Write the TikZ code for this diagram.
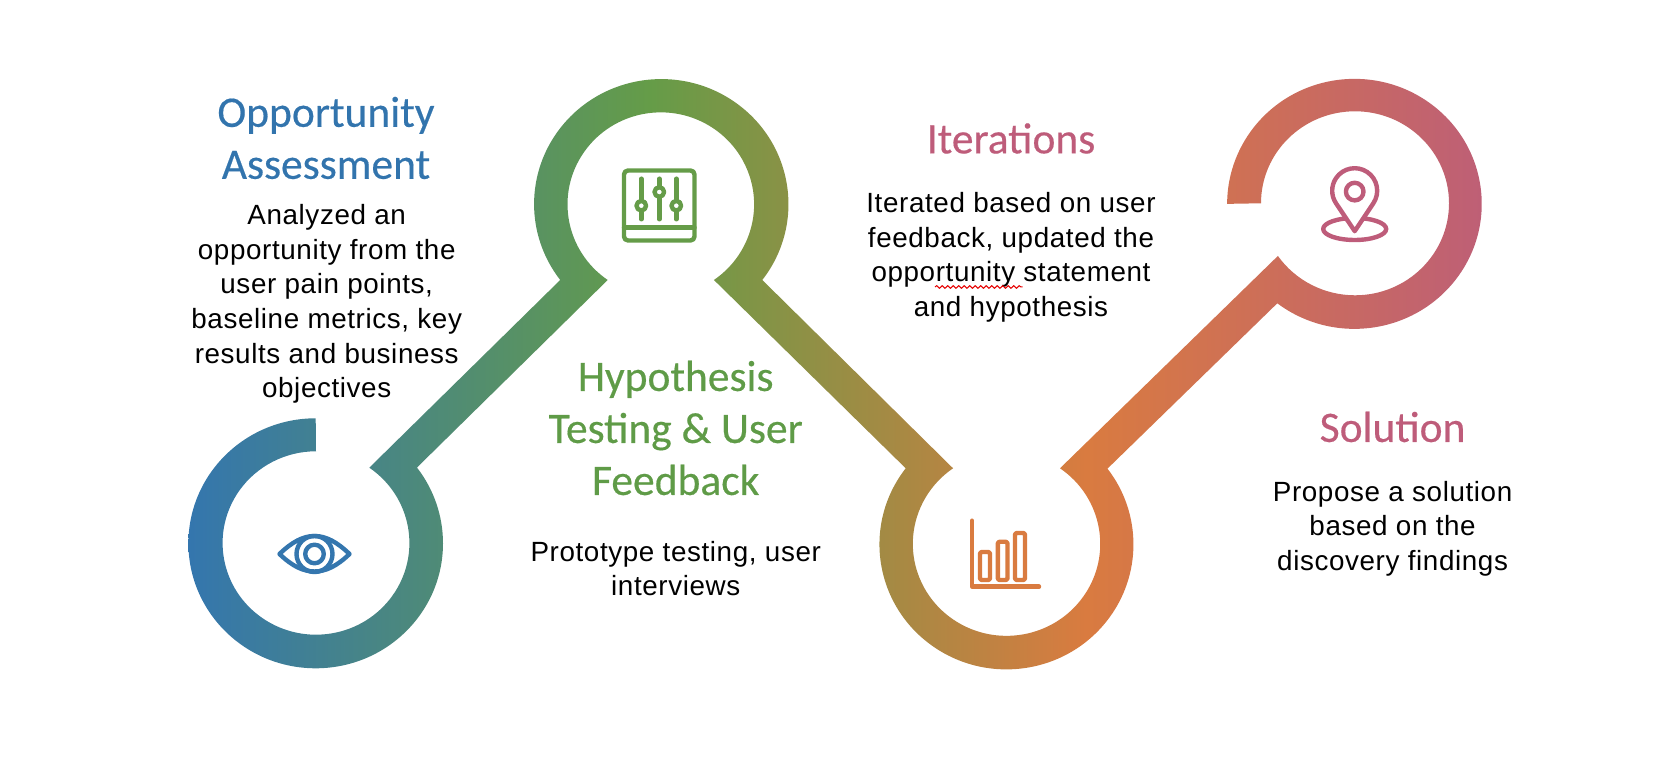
\documentclass[tikz,border=0pt]{standalone}
\usepackage{fontspec}
\setmainfont[LetterSpace=2.2]{Liberation Sans}
\newfontfamily\headfont[FakeBold=0.4]{Carlito}
\usetikzlibrary{decorations.pathmorphing}
\definecolor{cblue}{HTML}{3476AE}
\definecolor{cgreen}{HTML}{659C48}
\definecolor{corange}{HTML}{D97B40}
\definecolor{cpink}{HTML}{BD5E78}
\definecolor{hblue}{HTML}{3274AD}
\definecolor{hgreen}{HTML}{5F9B47}
\definecolor{hpink}{HTML}{BE5C7A}
\pgfdeclarehorizontalshading{ribbon}{100bp}{
  color(0bp)=(cblue); color(25bp)=(cblue); color(42.6bp)=(cgreen);
  color(59.25bp)=(corange); color(75bp)=(cpink); color(100bp)=(cpink)}
\tikzset{
  headtext/.style={font=\headfont\fontsize{43.5}{52}\selectfont,align=center,inner sep=0pt},
  bodytext/.style={font=\fontsize{27.8}{34.6}\selectfont,align=center,inner sep=0pt,text=black},
  icon/.style={line width=4.4pt,line cap=round,line join=round}
}
\begin{document}
\begin{tikzpicture}[x=1pt,y=1pt]
\useasboundingbox (0,0) rectangle (1658,768);
% ribbon (y up: Y = 768 - pixel y)
\path[shading=ribbon]
 (315.7,349.7)
 arc[start angle=90,end angle=397.3,x radius=127.3,y radius=125]
 -- (607.7,488)
 arc[start angle=235.3,end angle=-55.3,x radius=93.3,y radius=92]
 -- (905.7,299.7)
 arc[start angle=142.5,end angle=397.3,x radius=127,y radius=125]
 -- (1277.3,464.7)
 arc[start angle=232.7,end angle=540,x radius=127.3,y radius=125]
 -- (1261,564.7)
 arc[start angle=180,end angle=-145.1,x radius=94,y radius=92]
 -- (1060,299.7)
 arc[start angle=55.2,end angle=-235.2,x radius=93.7,y radius=92]
 -- (762.3,488)
 arc[start angle=-37.4,end angle=217.4,x radius=127.2,y radius=125]
 -- (369.3,300.3)
 arc[start angle=55.2,end angle=-270,x radius=93.4,y radius=91.7]
 -- cycle;
% pin icon
\begin{scope}[shift={(1354.7,577.3)}]
 \draw[icon,hpink] (0,-38.3) ellipse[x radius=31.5,y radius=11];
 \draw[icon,hpink,fill=white] (18.7,-12.5) arc[start angle=-33.7,end angle=213.7,radius=22.5] -- (0,-40.5) -- cycle;
 \draw[icon,hpink] (0,0) ++(0,-0.9) circle[radius=8.8];
\end{scope}
\begin{scope}[shift={(0,768)},y=-1pt]
 % eye icon
 \draw[icon,cblue] (279.5,554) .. controls (292,542) and (303,536) .. (314.5,536)
    .. controls (326,536) and (337,542) .. (349.5,554)
    .. controls (337,566) and (326,571.5) .. (314.5,571.5)
    .. controls (303,571.5) and (292,566) .. (279.5,554) -- cycle;
 \draw[icon,cblue] (314.5,554) circle[radius=18];
 \draw[icon,cblue,line width=4.4pt] (314.5,554) circle[radius=9.3];
 % sliders icon
 \draw[icon,cgreen,rounded corners=4pt] (624,170.5) rectangle (694.5,240.5);
 \draw[icon,cgreen] (624,227.7) -- (694.5,227.7);
 \draw[icon,cgreen] (641.3,178.7) -- (641.3,219.3);
 \draw[icon,cgreen] (659.3,178.7) -- (659.3,219.3);
 \draw[icon,cgreen] (676.3,178.7) -- (676.3,219.3);
 \draw[icon,cgreen,fill=white] (641.3,205.7) circle[radius=4.8];
 \draw[icon,cgreen,fill=white] (659.3,192) circle[radius=4.8];
 \draw[icon,cgreen,fill=white] (676.3,205.7) circle[radius=4.8];
 % bar chart icon
 \draw[icon,corange] (972,520.7) -- (972,586.7) -- (1039,586.7);
 \draw[icon,corange,rounded corners=1.5pt] (980,552) rectangle (990,580);
 \draw[icon,corange,rounded corners=1.5pt] (997.8,541.8) rectangle (1007.5,580);
 \draw[icon,corange,rounded corners=1.5pt] (1015,533) rectangle (1025,580);
 % texts
 \node[headtext,text=hblue] (h1) at (326,138) {Opportunity\\Assessment};
 \node[bodytext] (b1) at (326.7,304) {Analyzed an\\opportunity from the\\user pain points,\\baseline metrics, key\\results and business\\objectives};
 \node[headtext,text=hgreen] (h2) at (675.7,428) {Hypothesis\\Testing \& User\\Feedback};
 \node[bodytext] (b2) at (675.7,568.5) {Prototype testing, user\\interviews};
 \node[headtext,text=hpink] (h3) at (1011,138.5) {Iterations};
 \node[bodytext] (b3) at (1011,257.5) {Iterated based on user\\feedback, updated the\\opportunity statement\\and hypothesis};
 \node[headtext,text=hpink] (h4) at (1392.6,427) {Solution};
 \node[bodytext] (b4) at (1392.6,528.5) {Propose a solution\\based on the\\discovery findings};
 % spell-check squiggle
 \coordinate (sqa) at (935,287);
 \coordinate (sqb) at (1022.7,287);
 \draw[red!90!black,line width=1pt,decorate,decoration={snake,segment length=5.5pt,amplitude=1.3pt}] (sqa) -- (sqb);
\end{scope}
\end{tikzpicture}
\end{document}
